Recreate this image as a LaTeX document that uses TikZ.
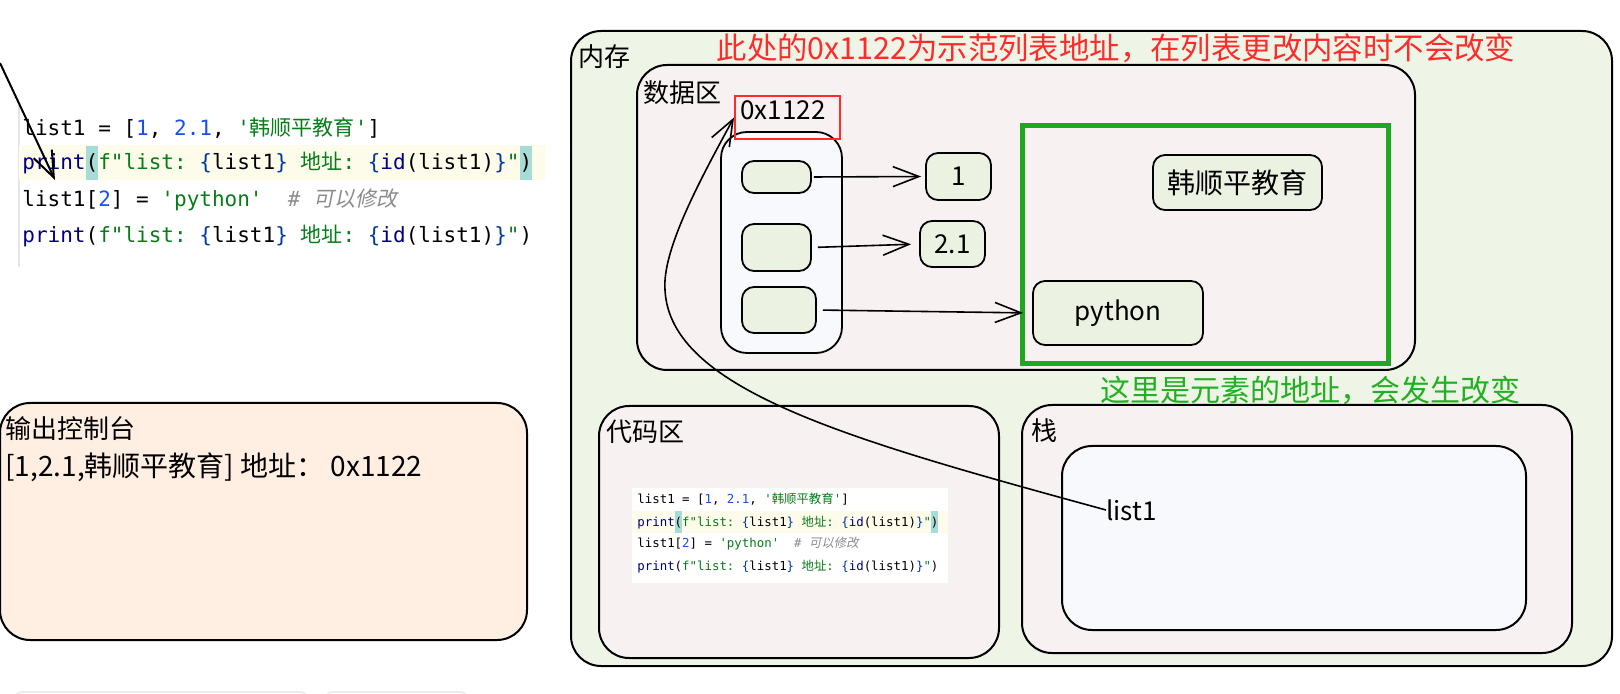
\documentclass[tikz,border=0pt]{standalone}
\usepackage{fontspec}
\setmainfont{Noto Sans CJK SC}
\setmonofont{DejaVu Sans Mono}
\newfontfamily\cjk{Noto Sans CJK SC}
\newfontfamily\cjkit[FakeSlant=0.2]{Noto Sans CJK SC}
\usetikzlibrary{arrows.meta}

\definecolor{memfill}{HTML}{EEF5E7}
\definecolor{areafill}{HTML}{F7F2F1}
\definecolor{cellfill}{HTML}{EBF2E1}
\definecolor{listfill}{HTML}{F8F9FD}
\definecolor{consfill}{HTML}{FFEFE2}
\definecolor{notered}{HTML}{FF2A2A}
\definecolor{notegreen}{HTML}{22B022}
\definecolor{boxgreen}{HTML}{1EA81E}
\definecolor{codekw}{HTML}{000080}
\definecolor{codenum}{HTML}{1750EB}
\definecolor{codestr}{HTML}{067D17}
\definecolor{codecom}{HTML}{8C8C8C}
\definecolor{codebr}{HTML}{0037A6}
\definecolor{codehl}{HTML}{A6DCD6}
\definecolor{codeline}{HTML}{FDFBEA}

% 代码着色
\newcommand{\ckw}[1]{\textcolor{codekw}{#1}}
\newcommand{\cnum}[1]{\textcolor{codenum}{#1}}
\newcommand{\cstr}[1]{\textcolor{codestr}{#1}}
\newcommand{\ccom}[1]{\textcolor{codecom}{\itshape#1}}
\newcommand{\cbr}[1]{\textcolor{codebr}{#1}}
\newcommand{\chl}[1]{{\fboxsep=0pt\colorbox{codehl}{\strut#1}}}

% 四行代码
\newcommand{\codeA}{list1 = [\cnum{1}, \cnum{2.1}, \cstr{'{\cjk 韩顺平教育}'}]}
\newcommand{\codeB}{\ckw{print}\chl{(}\cstr{f"list: }\cbr{\{}list1\cbr{\}}\cstr{\ {\cjk 地址}: }\cbr{\{}\ckw{id}(list1)\cbr{\}}\cstr{"}\chl{)}}
\newcommand{\codeC}{list1[\cnum{2}] = \cstr{'python'}\ \ \ccom{\# {\cjkit 可以修改}}}
\newcommand{\codeD}{\ckw{print}(\cstr{f"list: }\cbr{\{}list1\cbr{\}}\cstr{\ {\cjk 地址}: }\cbr{\{}\ckw{id}(list1)\cbr{\}}\cstr{"})}

\tikzset{
  area/.style={draw, line width=1pt, rounded corners=15pt},
  cell/.style={draw, line width=0.9pt, rounded corners=6pt, fill=cellfill, inner sep=0pt},
  sz/.style 2 args={minimum width={#1*0.5pt}, minimum height={#2*0.5pt}},
  lbl/.style={font=\fontsize{13}{15}\selectfont, inner sep=0pt, anchor=west},
  ptr/.style={-{Straight Barb[length=13pt, width=10pt]}, line width=0.8pt},
  code/.style={font=\ttfamily\fontsize{10.5}{17}\selectfont, inner sep=0pt, anchor=west},
  smallcode/.style={font=\ttfamily\fontsize{6.2}{11.3}\selectfont, inner sep=0pt, anchor=west},
}

\begin{document}
\begin{tikzpicture}[x=0.5pt, y=-0.5pt]
    \useasboundingbox (0,0) rectangle (1620,694);

    % 内存
    \draw[area, fill=memfill] (571,31) rectangle (1612,666);
    \node[lbl] (memlbl) at (578,57) {内存};
    \node[font=\fontsize{15.2}{17}\selectfont, text=notered, inner sep=0pt] (note1) at (1116,48)
        {此处的0x1122为示范列表地址，在列表更改内容时不会改变};

    % 数据区
    \draw[area, fill=areafill] (637,65) rectangle (1415,370);
    \node[lbl] (datalbl) at (643,93) {数据区};
    \node[draw, line width=0.9pt, rounded corners=13pt, fill=listfill, sz={121}{221}] (lst) at (781.5,242.5) {};
    \node[cell, sz={69}{32}] (s1) at (776.5,177) {};
    \node[cell, sz={69}{47}] (s2) at (776.5,247.5) {};
    \node[cell, sz={74}{46}] (s3) at (779,310) {};
    \node[cell, sz={65}{47}, font=\fontsize{13}{15}\selectfont] (v1) at (958.5,176.5) {1};
    \node[cell, sz={65}{46}, font=\fontsize{13}{15}\selectfont] (v2) at (952.5,244) {2.1};

    % 元素地址
    \node[draw=boxgreen, line width=2.5pt, sz={366}{238}, inner sep=0pt] (elem) at (1205,245) {};
    \node[cell, sz={169}{55}, font=\fontsize{14}{16}\selectfont] (hsp) at (1237.5,182.5) {韩顺平教育};
    \node[cell, sz={170}{64}, font=\fontsize{13}{15}\selectfont] (py) at (1118,313) {python};

    % 列表地址
    \node[draw=notered, line width=1pt, sz={105}{43}, inner sep=0pt] (addr) at (787.5,117.5) {};
    \node[lbl, anchor=center] (addrtxt) at (783,110) {0x1122};

    \draw[ptr, shorten <=1pt, shorten >=2pt] (s1.east) -- (v1.west);
    \draw[ptr, shorten <=3pt, shorten >=4pt] (s2.east) -- (v2.west);
    \draw[ptr, shorten <=3pt, shorten >=4.5pt] (s3.east) -- (py.west);

    \node[font=\fontsize{15}{17}\selectfont, text=notegreen, inner sep=0pt] (note2) at (1310,390)
        {这里是元素的地址，会发生改变};

    % 代码区
    \draw[area, fill=areafill] (599,406) rectangle (999,658);
    \node[lbl] (codelbl) at (606,432) {代码区};
    \fill[white] (632,488) rectangle (948,583);
    \fill[codeline] (632,511) rectangle (948,533);
    \node[smallcode] (sc1) at (637,499) {\codeA};
    \node[smallcode] (sc2) at (637,522) {\codeB};
    \node[smallcode] (sc3) at (637,544) {\codeC};
    \node[smallcode] (sc4) at (637,567) {\codeD};

    % 栈
    \draw[area, fill=areafill] (1022,405) rectangle (1572,653);
    \node[lbl] (stklbl) at (1031,431) {栈};
    \node[draw, line width=1pt, rounded corners=15pt, fill=listfill, sz={464}{184}] (stk) at (1294,538) {};
    \node[lbl] (list1) at (1106,510) {list1};

    % 引用
    \draw[ptr] (list1.west) .. controls (850,440) and (670,390) .. (665,290)
        .. controls (662,250) and (700,180) .. (addr.west);

    % 输出控制台
    \draw[area, fill=consfill] (0,403) rectangle (527,640);
    \node[lbl] (conslbl) at (5,429) {输出控制台};
    \node[lbl, font=\fontsize{14}{16}\selectfont] (consout) at (5,467) {[1,2.1,韩顺平教育] 地址： 0x1122};

    % 源代码
    \draw[gray!20, line width=0.6pt] (19,103) -- (19,267);
    \fill[codeline] (19,145) rectangle (545,180);
    \node[code] (c1) at (22,128) {\codeA};
    \node[code] (c2) at (22,163) {\codeB};
    \node[code] (c3) at (22,200) {\codeC};
    \node[code] (c4) at (22,236) {\codeD};
    \coordinate (tla) at (0,63);
    \coordinate (tlb) at (55,180);
    \draw[ptr, line width=1pt] (tla) -- (tlb);

    % 底部
    \draw[gray!15, line width=1pt, rounded corners=4pt] (14,700) -- (14,692) -- (308,692) -- (308,700);
    \draw[gray!15, line width=1pt, rounded corners=4pt] (325,700) -- (325,692) -- (468,692) -- (468,700);
\end{tikzpicture}
\end{document}
